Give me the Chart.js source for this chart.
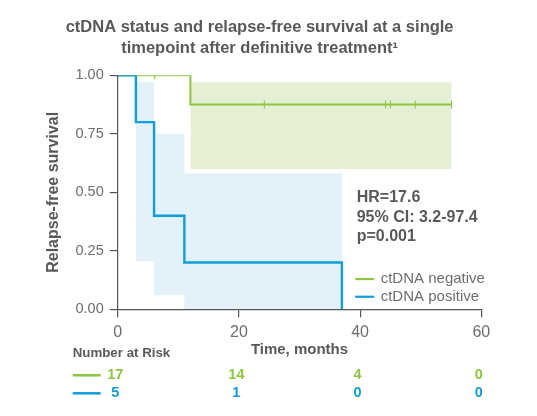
<!DOCTYPE html>
<html>
<head>
<meta charset="utf-8">
<script src="https://cdn.jsdelivr.net/npm/chart.js@4.4.0/dist/chart.umd.min.js"></script>
<style>
  html, body { margin: 0; padding: 0; background: #fff; }
</style>
</head>
<body>
<canvas id="km" width="537" height="416"></canvas>
<script>
// data
const titleLines = ["ctDNA status and relapse-free survival at a single", "timepoint after definitive treatment\u00B9"];
const seriesNames = ["ctDNA negative", "ctDNA positive"];
const monthTicks = [0, 20, 40, 60];
const survTicks = [0, 0.25, 0.5, 0.75, 1];

// ctDNA negative: step points [month], [survival]
const negTime = [0, 12, 55.1];
const negSurv = [1, 0.875, 0.875];
const negCensorTime = [6.1, 24.2, 44.2, 45.0, 49.1, 55.1];
const negCensorSurv = [1, 0.875, 0.875, 0.875, 0.875, 0.875];
const negBandTime = [12, 55.1];
const negBandUpper = [0.97, 0.97];
const negBandLower = [0.60, 0.60];

// ctDNA positive
const posTime = [0, 3, 6, 11, 37];
const posSurv = [1, 0.8, 0.4, 0.2, 0];
const posBandTime = [3, 6, 11, 37];
const posBandUpper = [0.97, 0.75, 0.58, 0.58];
const posBandLower = [0.205, 0.06, 0, 0];

// number at risk at 0, 20, 40, 60 months
const riskNeg = [17, 14, 4, 0];
const riskPos = [5, 1, 0, 0];
const statLines = ["HR=17.6", "95% CI: 3.2-97.4", "p=0.001"];

const GREEN = "#8cc63f";
const BLUE = "#0f9ddb";
const GREEN_BAND = "#e4efd4";
const BLUE_BAND = "#e2f1fa";
const DARK = "#58595b";
const LIGHT = "#6d6e71";
const FONT = "'Liberation Sans', Arial, Helvetica, sans-serif";

const pts = (xs, ys) => xs.map((x, i) => ({ x: x, y: ys[i] }));

const stepLine = (xs, ys, color, width, order) => ({
  data: pts(xs, ys),
  borderColor: color,
  borderWidth: width,
  stepped: true,
  pointRadius: 0,
  fill: false,
  order: order,
});

const bandEdge = (xs, ys, color, fill, order) => ({
  data: pts(xs, ys),
  borderWidth: 0,
  borderColor: "rgba(0,0,0,0)",
  backgroundColor: color,
  stepped: true,
  pointRadius: 0,
  fill: fill,
  order: order,
});

// legend, stats and risk table
const extras = {
  id: "extras",
  afterDraw(chart) {
    const ctx = chart.ctx;
    const area = chart.chartArea;
    const xs = chart.scales.x;
    ctx.save();
    ctx.textBaseline = "middle";

    // stats
    ctx.fillStyle = DARK;
    ctx.font = "bold 16px " + FONT;
    ctx.textAlign = "left";
    statLines.forEach((t, i) => {
      ctx.fillText(t, area.left + 239, area.top + 122.7 + i * 19.4);
    });

    // legend
    const colors = [GREEN, BLUE];
    ctx.font = "15px " + FONT;
    seriesNames.forEach((name, i) => {
      const y = area.top + 203.7 + i * 17.7;
      ctx.strokeStyle = colors[i];
      ctx.lineWidth = 2.2;
      ctx.beginPath();
      ctx.moveTo(area.left + 237.5, y);
      ctx.lineTo(area.left + 256.5, y);
      ctx.stroke();
      ctx.fillStyle = LIGHT;
      ctx.fillText(name, area.left + 263, y);
    });

    // number at risk
    ctx.fillStyle = DARK;
    ctx.font = "bold 13.3px " + FONT;
    ctx.fillText("Number at Risk", 72.7, area.bottom + 44);
    [riskNeg, riskPos].forEach((row, r) => {
      const y = area.bottom + 66 + r * 18;
      ctx.strokeStyle = colors[r];
      ctx.lineWidth = 2.5;
      ctx.beginPath();
      ctx.moveTo(72.7, y);
      ctx.lineTo(100.7, y);
      ctx.stroke();
      ctx.fillStyle = colors[r];
      ctx.font = "bold 14.5px " + FONT;
      ctx.textAlign = "center";
      row.forEach((n, i) => {
        ctx.fillText(String(n), xs.getPixelForValue(monthTicks[i]) - 2.5, y);
      });
      ctx.textAlign = "left";
    });
    ctx.restore();
  },
};

new Chart(document.getElementById("km"), {
  type: "line",
  data: {
    datasets: [
      stepLine(posTime, posSurv, BLUE, 2.4, 0),
      {
        data: pts(negCensorTime, negCensorSurv),
        showLine: false,
        pointStyle: "line",
        rotation: 90,
        pointRadius: 4,
        borderWidth: 1.1,
        borderColor: GREEN,
        order: 1,
      },
      stepLine(negTime, negSurv, GREEN, 2, 2),
      bandEdge(negBandTime, negBandUpper, GREEN_BAND, "+1", 5),
      bandEdge(negBandTime, negBandLower, GREEN_BAND, false, 5),
      bandEdge(posBandTime, posBandUpper, BLUE_BAND, "+1", 6),
      bandEdge(posBandTime, posBandLower, BLUE_BAND, false, 6),
    ],
  },
  options: {
    responsive: false,
    animation: false,
    layout: { padding: { left: 37.9, right: 55.7, top: 0, bottom: 0 } },
    plugins: {
      legend: { display: false },
      tooltip: { enabled: false },
      title: {
        display: true,
        text: titleLines,
        color: DARK,
        font: { family: FONT, size: 16.5, weight: "bold", lineHeight: 1.25 },
        padding: { top: 17.4, bottom: 16.7 },
      },
    },
    scales: {
      x: {
        type: "linear",
        min: 0,
        max: 60,
        afterBuildTicks: (s) => { s.ticks = monthTicks.map((v) => ({ value: v })); },
        afterFit: (s) => { s.height = 106.7; },
        grid: { drawOnChartArea: false, tickLength: 8, color: "#555", lineWidth: 1.2 },
        border: { color: "#555", width: 1.2 },
        ticks: { color: LIGHT, padding: 6, font: { family: FONT, size: 16 } },
        title: {
          display: true,
          text: "Time, months",
          color: DARK,
          font: { family: FONT, size: 15, weight: "bold", lineHeight: 1.2 },
          padding: { top: 0, bottom: 57 },
        },
      },
      y: {
        min: 0,
        max: 1,
        afterBuildTicks: (s) => { s.ticks = survTicks.map((v) => ({ value: v })); },
        afterFit: (s) => { s.width = 79.8; },
        grid: { drawOnChartArea: false, tickLength: 8, color: "#555", lineWidth: 1.2 },
        border: { color: "#555", width: 1.2 },
        ticks: {
          color: LIGHT,
          padding: 6,
          font: { family: FONT, size: 14.5 },
          callback: (v) => v.toFixed(2),
        },
        title: {
          display: true,
          text: "Relapse-free survival",
          color: DARK,
          font: { family: FONT, size: 16, weight: "bold", lineHeight: 1.2 },
          padding: { top: 6.5, bottom: 0 },
        },
      },
    },
  },
  plugins: [extras],
});
</script>
</body>
</html>
